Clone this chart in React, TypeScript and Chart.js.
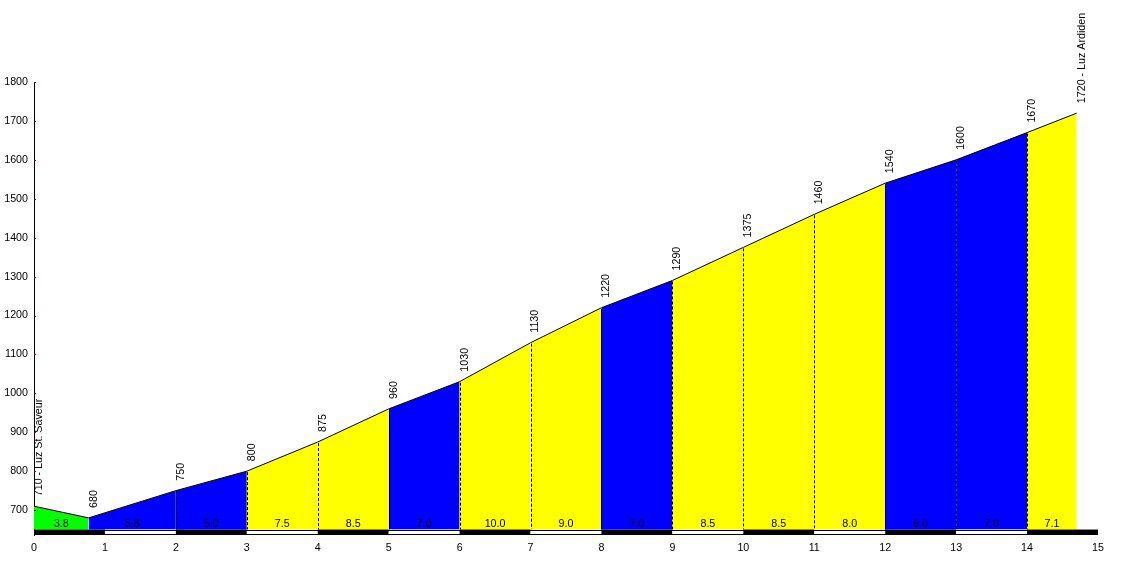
import { useEffect, useRef } from "react";
import { Chart, registerables } from "chart.js";

Chart.register(...registerables);

// ---- data ----
const distancesKm = [0, 0.77, 2, 3, 4, 5, 6, 7, 8, 9, 10, 11, 12, 13, 14, 14.7];
const elevationsM = [710, 680, 750, 800, 875, 960, 1030, 1130, 1220, 1290, 1375, 1460, 1540, 1600, 1670, 1720];
const pointLabels = [
  "710 - Luz St. Saveur", "680", "750", "800", "875", "960", "1030", "1130", "1220",
  "1290", "1375", "1460", "1540", "1600", "1670", "1720 - Luz Ardiden",
];
const gradeLabels = ["3.8", "5.8", "5.0", "7.5", "8.5", "7.0", "10.0", "9.0", "7.0", "8.5", "8.5", "8.0", "6.0", "7.0", "7.1"];
const segmentClass = ["down", "mid", "mid", "steep", "steep", "mid", "steep", "steep", "mid", "steep", "steep", "steep", "mid", "mid", "steep"];
const xTickValues = [0, 1, 2, 3, 4, 5, 6, 7, 8, 9, 10, 11, 12, 13, 14, 15];
const yTickValues = [700, 800, 900, 1000, 1100, 1200, 1300, 1400, 1500, 1600, 1700, 1800];

const Y_MIN = 636;
const Y_MAX = 1800;
const FILL_BASE = 650;

const classColor: Record<string, string> = {
  down: "#00ff00",
  mid: "#0000ff",
  steep: "#ffff00",
};

const FONT = "Liberation Sans, Arial, sans-serif";

const decorPlugin = {
  id: "profileDecor",
  afterDatasetsDraw(chart: any) {
    const { ctx } = chart;
    const x = chart.scales.x;
    const y = chart.scales.y;
    const baseY = y.getPixelForValue(FILL_BASE);
    const bottomY = y.getPixelForValue(Y_MIN);
    ctx.save();

    // km lines (dashed; solid where a steep block gives way to a moderate one)
    ctx.strokeStyle = "#000";
    ctx.lineWidth = 1;
    distancesKm.forEach((d, i) => {
      if (i === 0 || i === distancesKm.length - 1 || !Number.isInteger(d)) return;
      const solid = segmentClass[i - 1] === "steep" && segmentClass[i] === "mid";
      ctx.setLineDash(solid ? [] : [3, 2]);
      const px = Math.round(x.getPixelForValue(d)) + 0.5;
      const py = y.getPixelForValue(elevationsM[i]);
      ctx.beginPath();
      ctx.moveTo(px, py + 1);
      ctx.lineTo(px, baseY);
      ctx.stroke();
    });
    ctx.setLineDash([]);

    // km strip
    for (let k = 0; k < xTickValues.length - 1; k++) {
      const x0 = x.getPixelForValue(xTickValues[k]);
      const x1 = x.getPixelForValue(xTickValues[k + 1]);
      ctx.fillStyle = k % 2 === 0 ? "#000" : "#fff";
      ctx.fillRect(x0, baseY, x1 - x0, bottomY - baseY);
    }
    const sx0 = x.getPixelForValue(xTickValues[0]);
    const sx1 = x.getPixelForValue(xTickValues[xTickValues.length - 1]);
    ctx.strokeStyle = "#000";
    ctx.beginPath();
    ctx.moveTo(sx0, Math.round(baseY) + 0.5);
    ctx.lineTo(sx1, Math.round(baseY) + 0.5);
    ctx.moveTo(sx0, Math.round(bottomY) - 0.5);
    ctx.lineTo(sx1, Math.round(bottomY) - 0.5);
    ctx.stroke();

    // grade labels
    ctx.fillStyle = "#000";
    ctx.font = `10.7px ${FONT}`;
    ctx.textAlign = "center";
    ctx.textBaseline = "alphabetic";
    gradeLabels.forEach((g, i) => {
      const cx = (x.getPixelForValue(distancesKm[i]) + x.getPixelForValue(distancesKm[i + 1])) / 2;
      ctx.fillText(g, cx, baseY - 2.5);
    });

    // elevation labels (rotated)
    ctx.textAlign = "left";
    ctx.textBaseline = "middle";
    pointLabels.forEach((t, i) => {
      const px = x.getPixelForValue(distancesKm[i]);
      const py = y.getPixelForValue(elevationsM[i]);
      ctx.save();
      ctx.translate(px + 5, py - 10);
      ctx.rotate(-Math.PI / 2);
      ctx.fillText(t, 0, 0);
      ctx.restore();
    });

    // y tick marks
    ctx.strokeStyle = "#800000";
    const ax = chart.chartArea.left;
    yTickValues.forEach((v) => {
      const py = Math.round(y.getPixelForValue(v)) + 0.5;
      ctx.beginPath();
      ctx.moveTo(ax, py);
      ctx.lineTo(ax + 2, py);
      ctx.stroke();
    });

    ctx.restore();
  },
};

export default function App() {
  const ref = useRef<HTMLCanvasElement | null>(null);

  useEffect(() => {
    if (!ref.current) return;
    const datasets = gradeLabels.map((_, i) => ({
      data: [
        { x: distancesKm[i], y: elevationsM[i] },
        { x: distancesKm[i + 1], y: elevationsM[i + 1] },
      ],
      borderColor: "#000",
      borderWidth: 1,
      backgroundColor: classColor[segmentClass[i]],
      fill: { value: FILL_BASE },
      pointRadius: 0,
      tension: 0,
    }));

    const chart = new Chart(ref.current, {
      type: "line",
      data: { datasets },
      options: {
        animation: false,
        responsive: false,
        maintainAspectRatio: false,
        layout: { padding: { left: 0, right: 28, top: 82, bottom: 0 } },
        plugins: { legend: { display: false }, tooltip: { enabled: false } },
        scales: {
          x: {
            type: "linear",
            min: 0,
            max: 15,
            grid: { display: false, drawTicks: false },
            border: { display: false },
            afterBuildTicks: (s: any) => {
              s.ticks = xTickValues.map((v) => ({ value: v }));
            },
            afterFit: (s: any) => {
              s.height = 45;
            },
            ticks: {
              autoSkip: false,
              maxRotation: 0,
              padding: 7,
              color: "#000",
              font: { family: FONT, size: 10.7 },
              callback: (v: any) => String(v),
            },
          },
          y: {
            type: "linear",
            min: Y_MIN,
            max: Y_MAX,
            grid: { display: false, drawTicks: false },
            border: { display: true, color: "#000", width: 1 },
            afterBuildTicks: (s: any) => {
              s.ticks = yTickValues.map((v) => ({ value: v }));
            },
            afterFit: (s: any) => {
              s.width = 34;
            },
            ticks: {
              padding: 6,
              color: "#000",
              font: { family: FONT, size: 10.7 },
              callback: (v: any) => String(v),
            },
          },
        },
      },
      plugins: [decorPlugin],
    });
    return () => chart.destroy();
  }, []);

  return (
    <div style={{ position: "fixed", left: 0, top: 0, width: 1126, height: 580, background: "#fff" }}>
      <canvas ref={ref} width={1126} height={580} style={{ width: 1126, height: 580 }} />
    </div>
  );
}
